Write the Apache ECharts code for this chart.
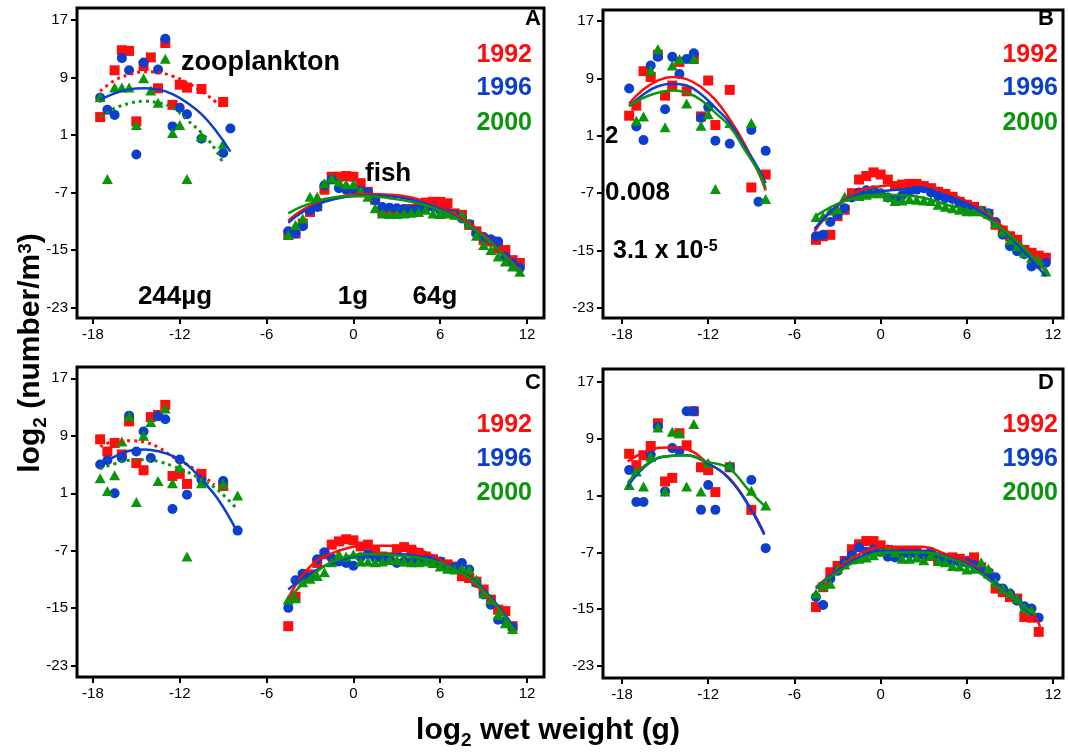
<!DOCTYPE html>
<html>
<head>
<meta charset="utf-8">
<script src="https://cdn.jsdelivr.net/npm/echarts@6/dist/echarts.min.js"></script>
<style>
html,body{margin:0;padding:0;background:#fff;}
#chart{width:1068px;height:752px;}
</style>
</head>
<body>
<div id="chart"></div>
<script>
// ---- shared labels / ticks ----
const years = ['1992', '1996', '2000'];
const panelNames = ['A', 'B', 'C', 'D'];
const xTicks = [-18, -12, -6, 0, 6, 12];
const yTicks = [-23, -15, -7, 1, 9, 17];
const sizeLabels = ['244\u00b5g', '1g', '64g'];
const densityLabels = ['2', '0.008', '3.1 x 10', '-5'];

// log2 body-mass classes of the fish samples
const fishX = [-4.5, -4, -3.5, -3, -2.5, -2, -1.5, -1, -0.5, 0, 0.5, 1, 1.5, 2, 2.5, 3, 3.5, 4, 4.5, 5, 5.5, 6, 6.5, 7, 7.5, 8, 8.5, 9, 9.5, 10, 10.5, 11, 11.5];

// ---- panel A ----
const aZoo1992 = [[-17.5,3.5],[-16.5,10.0],[-16,12.8],[-15.5,12.7],[-15,2.9],[-14.5,10.6],[-14,11.8],[-13.5,7.5],[-13,13.8],[-12.5,5.2],[-12,8.0],[-11.5,7.6],[-10.5,7.4],[-9,5.6]];
const aZoo1996 = [[-17.5,6.2],[-17,4.5],[-16.5,3.8],[-16,11.7],[-15.5,10.0],[-15,-1.7],[-14.5,11.1],[-13.5,10.1],[-13,14.4],[-12.5,2.2],[-12,4.8],[-11.5,3.9],[-10.5,0.5],[-9,-1.5],[-8.5,1.9]];
const aZoo2000 = [[-17.5,6.3],[-17,-5.1],[-16.5,7.6],[-16,7.6],[-15.5,7.6],[-15,2.4],[-14.5,8.9],[-14,7.2],[-13.5,5.5],[-13,11.6],[-12.5,1.3],[-12,2.4],[-11.5,-5.1],[-10.5,0.8],[-9,-0.2]];
const aFish1992 = [-12.9,-12.7,-11.3,-9.7,-8.9,-6.6,-4.8,-4.8,-4.7,-4.8,-5.7,-6.9,-8.0,-9.7,-9.7,-9.7,-9.4,-9.3,-9.0,-8.4,-8.3,-8.3,-8.5,-9.9,-10.1,-11.5,-12.4,-13.6,-13.8,-14.8,-15.0,-16.4,-16.8];
const aFish1996 = [-12.4,-12.7,-11.7,-9.5,-9.0,-6.0,-5.2,-6.4,-6.6,-6.6,-6.7,-7.0,-8.1,-9.0,-9.1,-9.2,-9.3,-9.4,-9.3,-9.1,-9.0,-9.5,-9.8,-10.1,-10.6,-11.4,-12.7,-13.2,-13.5,-13.8,-15.9,-16.8,-17.5];
const aFish2000 = [-12.9,-11.5,-10.6,-7.6,-7.6,-5.7,-5.0,-5.5,-5.8,-5.8,-6.7,-7.6,-9.2,-9.9,-10.0,-10.0,-9.9,-9.8,-9.7,-9.4,-9.9,-10.0,-9.9,-10.1,-10.1,-11.3,-13.0,-14.3,-15.0,-15.9,-16.6,-17.3,-18.0];
const aZooFit1992 = [[-17.5,7.1],[-16.5,8.6],[-15.5,9.4],[-14.5,9.8],[-13.5,9.7],[-12.5,9.2],[-11.5,8.3],[-10.5,7.1],[-9.5,5.6],[-9,4.8]];
const aZooFit1996 = [[-17.5,5.9],[-16.5,6.8],[-15.5,7.35],[-14.5,7.5],[-13.5,7.35],[-12.5,6.7],[-11.5,5.5],[-10.5,3.9],[-9.5,1.6],[-8.5,-1.3]];
const aZooFit2000 = [[-17.5,3.55],[-16.5,4.7],[-15.5,5.4],[-14.5,5.7],[-13.5,5.5],[-12.5,4.8],[-11.5,3.1],[-10.5,1.3],[-9.5,-1.1],[-9,-3.0]];
const aFishFit1992 = [[-4.5,-10.9],[-3.5,-9.4],[-2,-8.1],[-0.5,-7.4],[1,-7.2],[2.5,-7.3],[4,-7.7],[5.5,-8.6],[7,-10.0],[8.5,-12.0],[10,-14.8],[11.5,-17.8]];
const aFishFit1996 = [[-4.5,-11.2],[-3.5,-9.7],[-2,-8.3],[-0.5,-7.6],[1,-7.4],[2.5,-7.5],[4,-8.0],[5.5,-8.9],[7,-10.3],[8.5,-12.3],[10,-15.0],[11.5,-18.0]];
const aFishFit2000 = [[-4.5,-9.9],[-3.5,-8.9],[-2,-7.9],[-0.5,-7.5],[1,-7.5],[2.5,-7.8],[4,-8.3],[5.5,-9.1],[7,-10.4],[8.5,-12.3],[10,-14.9],[11.5,-18.0]];

// ---- panel B ----
const bZoo1992 = [[-17.5,3.8],[-17,5.2],[-16.5,10.0],[-16,9.2],[-15.5,12.3],[-15,6.6],[-14.5,8.0],[-14,11.3],[-13.5,7.2],[-13,11.9],[-12.5,3.7],[-12,8.7],[-11.5,2.5],[-10.5,7.4],[-9,-6.2],[-8,-4.4]];
const bZoo1996 = [[-17.5,7.6],[-17,2.3],[-16.5,0.4],[-16,10.8],[-15.5,12.0],[-15,4.7],[-14.5,12.0],[-14,9.6],[-13.5,11.7],[-13,12.5],[-12.5,3.5],[-12,5.0],[-11.5,0.3],[-10.5,-0.1],[-9,1.8],[-8.5,-8.2],[-8,-1.1]];
const bZoo2000 = [[-17,3.1],[-16.5,3.7],[-16,10.1],[-15.5,13.1],[-15,2.2],[-14.5,10.8],[-14,11.7],[-13.5,5.5],[-13,11.7],[-12.5,2.4],[-12,4.0],[-11.5,-6.4],[-10.5,2.8],[-9,2.8],[-8,-7.8]];
const bFish1992 = [-13.5,-13.0,-12.8,-10.2,-9.3,-7.0,-5.1,-4.6,-4.1,-4.4,-5.1,-6.0,-5.8,-5.7,-5.7,-6.0,-6.3,-6.8,-7.1,-7.5,-8.2,-8.6,-8.9,-9.5,-9.9,-11.4,-12.2,-13.0,-13.5,-14.9,-15.3,-15.7,-16.0];
const bFish1996 = [-13.0,-12.8,-11.0,-10.0,-9.1,-7.6,-6.9,-6.6,-6.6,-7.0,-7.6,-7.9,-7.3,-6.8,-6.5,-6.3,-6.9,-7.4,-7.7,-7.8,-8.4,-9.1,-9.3,-9.5,-9.8,-11.0,-12.8,-14.4,-15.1,-15.5,-17.2,-16.9,-16.7];
const bFish2000 = [-10.3,-10.2,-9.4,-9.2,-7.5,-7.2,-7.4,-7.2,-7.0,-7.0,-7.5,-8.1,-8.0,-7.8,-7.9,-8.0,-8.1,-8.6,-8.9,-9.1,-9.3,-9.5,-9.5,-9.3,-9.8,-11.2,-12.3,-13.5,-14.4,-15.3,-16.0,-16.3,-17.9];
const bZooFit1992 = [[-17.5,5.5],[-16.5,7.5],[-15.5,8.7],[-14.5,9.2],[-13.5,8.9],[-12.5,7.8],[-11.5,6.0],[-10.5,3.3],[-9.5,0.0],[-8.5,-4.1],[-8,-6.6]];
const bZooFit1996 = [[-17.5,5.1],[-16.5,6.8],[-15.5,7.9],[-14.5,8.25],[-13.5,8.0],[-12.5,6.8],[-11.5,4.9],[-10.5,2.8],[-9.5,-0.4],[-8.5,-3.6],[-8,-5.6]];
const bZooFit2000 = [[-17.5,5.2],[-16.5,6.3],[-15.5,7.0],[-14.5,7.3],[-13.5,7.0],[-12.5,6.0],[-11.5,4.2],[-10.5,2.3],[-9.5,-0.8],[-8.5,-4.0],[-8,-6.3]];
const bFishFit1992 = [[-4.6,-12.3],[-2.4,-7.7],[-0.1,-6.05],[2.25,-5.8],[4.6,-6.9],[6.9,-9.3],[9.2,-13.0],[11.5,-17.9]];
const bFishFit1996 = [[-4.6,-12.0],[-2.4,-7.9],[-0.1,-6.8],[2.25,-6.4],[4.6,-7.4],[6.9,-9.5],[9.2,-13.5],[11.5,-18.6]];
const bFishFit2000 = [[-4.6,-10.3],[-2.4,-8.0],[-0.1,-7.2],[2.25,-7.4],[4.6,-8.6],[6.9,-10.0],[9.2,-13.2],[11.6,-18.1]];

// ---- panel C ----
const cZoo1992 = [[-17.5,8.5],[-17,6.8],[-16.5,8.0],[-16,6.4],[-15.5,11.0],[-15,5.2],[-14.5,4.2],[-14,11.6],[-13.5,11.9],[-13,13.3],[-12.5,3.4],[-12,3.7],[-11.5,2.3],[-10.5,3.7],[-9,2.0]];
const cZoo1996 = [[-17.5,5.0],[-17,5.6],[-16.5,1.0],[-16,5.9],[-15.5,11.8],[-15,6.8],[-14.5,9.6],[-14,5.9],[-13.5,11.7],[-13,11.3],[-12.5,-1.2],[-12,5.7],[-11.5,0.8],[-10.5,2.9],[-9,2.7],[-8,-4.2]];
const cZoo2000 = [[-17.5,3.1],[-17,1.3],[-16.5,3.5],[-16,8.2],[-15.5,11.7],[-15,-0.2],[-14.5,9.0],[-14,10.9],[-13.5,2.7],[-13,12.8],[-12.5,2.4],[-12,4.6],[-11.5,-7.8],[-10.5,2.4],[-9,2.3],[-8,0.7]];
const cFish1992 = [-17.5,-13.4,-10.55,-10.3,-8.7,-7.5,-6.15,-5.7,-5.4,-5.55,-6.4,-6.15,-7.1,-7.8,-7.9,-6.8,-6.5,-6.85,-7.3,-7.8,-8.2,-8.6,-8.9,-9.2,-10.55,-10.8,-11.3,-12.4,-13.8,-15.2,-15.4,-17.5];
const cFish1996 = [-14.95,-11.1,-10.2,-10.8,-8.2,-7.2,-8.0,-8.5,-8.7,-9.1,-7.9,-7.5,-8.0,-8.1,-8.3,-8.7,-8.5,-8.6,-8.3,-8.3,-8.2,-8.5,-9.4,-9.3,-8.7,-9.6,-11.5,-13.1,-14.5,-16.6,-16.8,-17.6];
const cFish2000 = [-13.8,-13.6,-11.4,-10.9,-10.5,-10.0,-8.6,-7.5,-7.8,-7.5,-8.5,-8.5,-8.6,-8.5,-8.3,-8.3,-8.5,-8.6,-8.6,-8.5,-8.7,-9.2,-9.5,-9.6,-9.5,-9.6,-11.0,-12.9,-13.8,-15.9,-17.1,-17.9];
const cZooFit1992 = [[-17.5,7.5],[-16.5,8.2],[-15.4,8.3],[-14.4,8.1],[-13.4,7.3],[-12.5,6.1],[-11.5,5.0],[-10.5,3.6],[-9.6,2.2]];
const cZooFit1996 = [[-17.5,5.0],[-16.5,6.1],[-15.4,6.95],[-14.4,7.1],[-13.4,6.8],[-12.5,6.2],[-11.5,5.0],[-10.5,2.9],[-9.4,0.3],[-8.1,-4.1]];
const cZooFit2000 = [[-17.5,4.4],[-16.5,5.1],[-15.4,5.6],[-14.4,5.65],[-13.4,5.4],[-12.5,4.8],[-11.5,4.0],[-10.5,2.9],[-9.4,1.5],[-8,-1.3]];
const cFishFit1992 = [[-4.5,-13.6],[-3,-9.2],[-1.15,-7.1],[1.15,-6.3],[3.2,-6.3],[5.1,-7.3],[6.9,-9.4],[8.8,-12.4],[11.1,-17.7]];
const cFishFit1996 = [[-4.5,-12.4],[-3,-10.2],[-1.15,-8.5],[1.15,-7.5],[3.2,-7.5],[5.1,-8.1],[6.9,-9.4],[8.8,-12.0],[11.1,-17.7]];
const cFishFit2000 = [[-4.5,-13.8],[-3,-10.7],[-1.15,-8.3],[1.15,-7.5],[3.2,-7.7],[5.1,-8.2],[6.9,-9.5],[8.8,-12.2],[11.1,-18.0]];

// ---- panel D ----
const dZoo1992 = [[-17.5,6.9],[-17,5.3],[-16.5,6.7],[-16,8.0],[-15.5,11.2],[-15,3.0],[-14.5,3.5],[-14,9.8],[-13.5,8.1],[-13,12.9],[-12.5,5.0],[-12,4.6],[-11.5,1.5],[-10.5,5.0],[-9,-1.0]];
const dZoo1996 = [[-17.5,4.6],[-17,0.1],[-16.5,0.1],[-16,6.8],[-15.5,10.7],[-15,1.6],[-14.5,7.7],[-14,7.3],[-13.5,12.9],[-13,12.9],[-12.5,-1.0],[-12,2.5],[-11.5,-1.0],[-10.5,5.0],[-9,3.2],[-8,-6.4]];
const dZoo2000 = [[-17.5,2.5],[-17,4.4],[-16.5,2.3],[-16,6.5],[-15.5,10.6],[-15,1.6],[-14.5,10.0],[-14,9.8],[-13.5,2.3],[-13,11.1],[-12.5,1.6],[-12,5.6],[-10.5,5.3],[-9,1.7],[-8,-0.4]];
const dFish1992 = [-14.7,-11.9,-9.8,-8.9,-8.2,-6.55,-5.85,-5.4,-5.4,-6.0,-6.65,-7.0,-6.8,-6.8,-6.9,-7.3,-7.5,-8.0,-8.0,-7.7,-7.9,-8.2,-7.7,-9.1,-10.0,-12.1,-12.6,-13.3,-13.5,-16.1,-16.2,-18.2];
const dFish1996 = [-13.3,-14.4,-10.7,-9.6,-8.4,-7.4,-6.3,-6.9,-6.6,-6.9,-7.6,-7.7,-7.2,-7.2,-7.2,-7.4,-6.9,-7.7,-8.0,-8.2,-8.4,-8.5,-8.8,-9.3,-9.8,-10.5,-12.1,-12.8,-13.8,-14.6,-14.9,-16.2];
const dFish2000 = [-12.8,-11.7,-11.4,-9.3,-8.7,-8.0,-7.9,-7.7,-7.4,-6.9,-6.5,-7.0,-7.9,-7.9,-7.7,-8.1,-7.4,-8.2,-8.4,-8.9,-9.0,-9.4,-9.3,-8.4,-9.3,-11.2,-12.1,-12.7,-13.5,-14.8,-15.2];
const dZooFit1992 = [[-17.6,5.8],[-16.1,7.4],[-14.7,7.8],[-13.3,7.4],[-12.1,5.7],[-10.6,3.6],[-9.1,-0.6],[-8.1,-4.3]];
const dZooFit1996 = [[-17.6,2.3],[-16.1,5.6],[-14.7,6.6],[-13.6,6.7],[-12.1,5.6],[-10.6,3.5],[-9.1,-0.7],[-8.1,-4.5]];
const dZooFit2000 = [[-17.6,2.8],[-16.1,5.7],[-14.7,6.6],[-13.6,6.7],[-12.1,5.8],[-10.6,4.9],[-9.1,1.6],[-8.1,-0.4]];
const dFishFit1992 = [[-4.5,-11.9],[-3,-9.4],[-1.15,-6.9],[0.7,-6.2],[2.8,-6.2],[4.6,-7.3],[6.5,-8.9],[8.3,-12.1],[10.6,-15.8],[11.1,-17.5]];
const dFishFit1996 = [[-4.5,-12.1],[-3,-9.6],[-1.15,-7.4],[0.7,-6.8],[2.8,-6.8],[4.6,-7.6],[6.5,-9.1],[8.3,-11.9],[10.6,-15.9]];
const dFishFit2000 = [[-4.5,-11.9],[-3,-9.8],[-1.15,-7.7],[0.7,-7.0],[2.8,-7.0],[4.6,-7.7],[6.5,-9.4],[8.3,-12.1],[10.6,-15.6]];

// ---- drawing ----
const COLORS = ['#ff0d0d', '#0b3fcf', '#0a960a'];
const SYMBOLS = ['rect', 'circle', 'triangle'];
const SYMBOL_SIZES = [10, 10, [11, 10]];
const FONT = 'Arial, "Liberation Sans", Helvetica, sans-serif';

const panels = [
  { zoo: [aZoo1992, aZoo1996, aZoo2000], fish: [aFish1992, aFish1996, aFish2000],
    zooFit: [aZooFit1992, aZooFit1996, aZooFit2000], fishFit: [aFishFit1992, aFishFit1996, aFishFit2000], dottedZoo: true },
  { zoo: [bZoo1992, bZoo1996, bZoo2000], fish: [bFish1992, bFish1996, bFish2000],
    zooFit: [bZooFit1992, bZooFit1996, bZooFit2000], fishFit: [bFishFit1992, bFishFit1996, bFishFit2000], dottedZoo: false },
  { zoo: [cZoo1992, cZoo1996, cZoo2000], fish: [cFish1992, cFish1996, cFish2000],
    zooFit: [cZooFit1992, cZooFit1996, cZooFit2000], fishFit: [cFishFit1992, cFishFit1996, cFishFit2000], dottedZoo: true },
  { zoo: [dZoo1992, dZoo1996, dZoo2000], fish: [dFish1992, dFish1996, dFish2000],
    zooFit: [dZooFit1992, dZooFit1996, dZooFit2000], fishFit: [dFishFit1992, dFishFit1996, dFishFit2000], dottedZoo: false }
];

// pixel frames of the four plots and their visible value ranges
const frames = [
  { left: 77, top: 8, width: 467, height: 310, xMin: -19.1, xMax: 13.17, yMin: -24.45, yMax: 18.67 },
  { left: 603, top: 10, width: 460, height: 308, xMin: -19.32, xMax: 12.69, yMin: -24.39, yMax: 18.53 },
  { left: 77, top: 367, width: 467, height: 310, xMin: -19.1, xMax: 13.17, yMin: -24.57, yMax: 18.57 },
  { left: 603, top: 369, width: 460, height: 309, xMin: -19.32, xMax: 12.69, yMin: -24.7, yMax: 18.85 }
];

const grid = [], xAxis = [], yAxis = [], series = [];
frames.forEach((f, i) => {
  grid.push({ left: f.left, top: f.top, width: f.width, height: f.height,
    show: true, borderColor: '#000', borderWidth: 3, backgroundColor: 'transparent' });
  xAxis.push({ type: 'value', gridIndex: i, min: f.xMin, max: f.xMax, position: 'bottom',
    axisLine: { show: false, onZero: false }, splitLine: { show: false },
    axisTick: { show: true, inside: false, length: 6, customValues: xTicks, lineStyle: { color: '#000', width: 2 } },
    axisLabel: { customValues: xTicks, color: '#000', fontSize: 15, fontFamily: FONT, margin: 9 } });
  yAxis.push({ type: 'value', gridIndex: i, min: f.yMin, max: f.yMax, position: 'left',
    axisLine: { show: false, onZero: false }, splitLine: { show: false },
    axisTick: { show: true, inside: false, length: 6, customValues: yTicks, lineStyle: { color: '#000', width: 2 } },
    axisLabel: { customValues: yTicks, color: '#000', fontSize: 15, fontFamily: FONT, margin: 9 } });
});

panels.forEach((p, i) => {
  for (let k = 0; k < 3; k++) {
    const pts = p.zoo[k].concat(p.fish[k].map((y, j) => [fishX[j], y]));
    series.push({ type: 'scatter', name: years[k], xAxisIndex: i, yAxisIndex: i, data: pts,
      symbol: SYMBOLS[k], symbolSize: SYMBOL_SIZES[k], itemStyle: { color: COLORS[k], opacity: 1 },
      z: 2, silent: true });
  }
  for (let k = 0; k < 3; k++) {
    const dotted = p.dottedZoo && k !== 1;
    series.push({ type: 'line', xAxisIndex: i, yAxisIndex: i, data: p.zooFit[k], smooth: 0.45,
      symbol: 'none', lineStyle: { color: COLORS[k], width: dotted ? 3 : 2.5, type: dotted ? [3, 4] : 'solid' },
      z: 4, silent: true });
    series.push({ type: 'line', xAxisIndex: i, yAxisIndex: i, data: p.fishFit[k], smooth: 0.45,
      symbol: 'none', lineStyle: { color: COLORS[k], width: 2.5 }, z: 4, silent: true });
  }
});

function label(x, y, text, size, color, align) {
  return { type: 'text', x: x, y: y, silent: true, z: 10,
    style: { text: text, font: 'bold ' + size + 'px ' + FONT, fill: color,
      align: align, verticalAlign: 'middle', textAlign: align, textVerticalAlign: 'middle' } };
}
function richLabel(x, y, text, rich, align, rotation) {
  return { type: 'text', x: x, y: y, rotation: rotation || 0, silent: true, z: 10,
    style: { text: text, rich: rich, align: align, verticalAlign: 'middle', textAlign: align, textVerticalAlign: 'middle' } };
}
function base(size) {
  return { fontSize: size, fontWeight: 'bold', fontFamily: FONT, fill: '#000', color: '#000', verticalAlign: 'top', lineHeight: size };
}
function sub(size, drop) {
  return { fontSize: size, fontWeight: 'bold', fontFamily: FONT, fill: '#000', color: '#000', verticalAlign: 'top', lineHeight: size, padding: [drop, 0, 0, 0] };
}

const graphic = [];
// panel letters and year keys
const letterPos = [[541, 19], [1054, 19], [541, 383], [1054, 383]];
const yearPos = [[532, [55, 88, 123]], [1058, [55, 88, 123]], [532, [425, 459, 493]], [1058, [425, 459, 493]]];
panelNames.forEach((n, i) => {
  graphic.push(label(letterPos[i][0], letterPos[i][1], n, 22, '#000', 'right'));
  years.forEach((yr, k) => graphic.push(label(yearPos[i][0], yearPos[i][1][k], yr, 25, COLORS[k], 'right')));
});
// group names and size marks in panel A
graphic.push(label(181, 63, 'zooplankton', 27, '#000', 'left'));
graphic.push(label(365, 174, 'fish', 26, '#000', 'left'));
graphic.push(label(175, 297, sizeLabels[0], 26, '#000', 'center'));
graphic.push(label(353, 297, sizeLabels[1], 26, '#000', 'center'));
graphic.push(label(435, 297, sizeLabels[2], 26, '#000', 'center'));
// linear-scale densities in panel B
graphic.push(label(605, 136, densityLabels[0], 24, '#000', 'left'));
graphic.push(label(605, 193, densityLabels[1], 26, '#000', 'left'));
graphic.push(richLabel(613, 251, '{a|' + densityLabels[2] + '}{s|' + densityLabels[3] + '}',
  { a: base(25), s: sub(16, 0) }, 'left'));
// axis titles
graphic.push(richLabel(31, 353, '{a|log}{s|2}{a| (number/m}{p|3}{a|)}',
  { a: base(30), s: sub(19, 15), p: sub(19, 0) }, 'center', Math.PI / 2));
graphic.push(richLabel(548, 731, '{a|log}{s|2}{a| wet weight (g)}',
  { a: base(30), s: sub(19, 15) }, 'center'));

const chart = echarts.init(document.getElementById('chart'), null, { renderer: 'canvas', width: 1068, height: 752 });
chart.setOption({
  animation: false,
  backgroundColor: '#fff',
  grid: grid,
  xAxis: xAxis,
  yAxis: yAxis,
  series: series,
  graphic: graphic
});
</script>
</body>
</html>
